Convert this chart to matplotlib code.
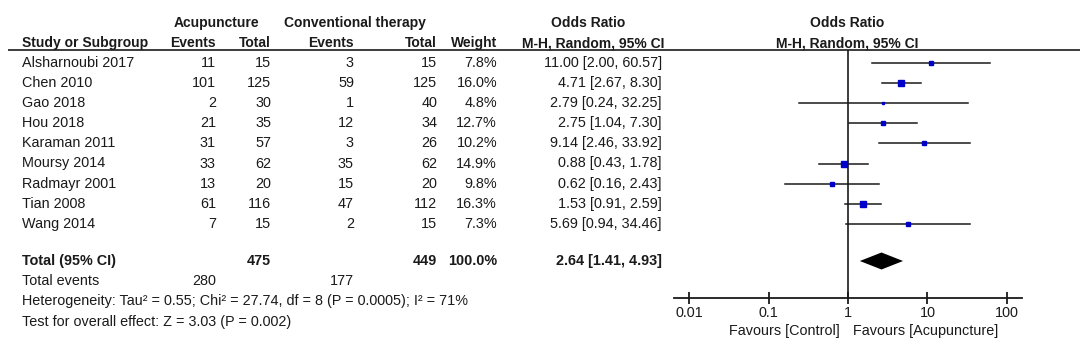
import matplotlib
matplotlib.use("Agg")
import matplotlib.pyplot as plt
import numpy as np

# data
studies = ["Alsharnoubi 2017", "Chen 2010", "Gao 2018", "Hou 2018", "Karaman 2011",
           "Moursy 2014", "Radmayr 2001", "Tian 2008", "Wang 2014"]
acu_events = [11, 101, 2, 21, 31, 33, 13, 61, 7]
acu_total = [15, 125, 30, 35, 57, 62, 20, 116, 15]
con_events = [3, 59, 1, 12, 3, 35, 15, 47, 2]
con_total = [15, 125, 40, 34, 26, 62, 20, 112, 15]
weights = [7.8, 16.0, 4.8, 12.7, 10.2, 14.9, 9.8, 16.3, 7.3]
or_est = [11.00, 4.71, 2.79, 2.75, 9.14, 0.88, 0.62, 1.53, 5.69]
or_lo = [2.00, 2.67, 0.24, 1.04, 2.46, 0.43, 0.16, 0.91, 0.94]
or_hi = [60.57, 8.30, 32.25, 7.30, 33.92, 1.78, 2.43, 2.59, 34.46]
pooled_est, pooled_lo, pooled_hi = 2.64, 1.41, 4.93
total_acu, total_con, total_weight = 475, 449, 100.0
events_acu, events_con = 280, 177
het_text = "Heterogeneity: Tau\u00b2 = 0.55; Chi\u00b2 = 27.74, df = 8 (P = 0.0005); I\u00b2 = 71%"
test_text = "Test for overall effect: Z = 3.03 (P = 0.002)"
xticks = [0.01, 0.1, 1, 10, 100]
xtick_labels = ["0.01", "0.1", "1", "10", "100"]

plt.rcParams['font.family'] = ['Liberation Sans', 'DejaVu Sans']
FS = 10.4   # regular text
FSB = 10    # bold headers
TXT = "#1a1a1a"
BLUE = "#0000c8"

W, H = 1080, 357
fig = plt.figure(figsize=(W / 100, H / 100), dpi=100)

# text layer in pixel coordinates
ax = fig.add_axes([0, 0, 1, 1])
ax.set_xlim(0, W)
ax.set_ylim(H, 0)
ax.axis("off")

# layout (pixels)
row0, drow = 63, 20.1
row_y = [row0 + i * drow for i in range(len(studies))]
y_total = 261
x_name = 22
x_ae, x_at, x_ce, x_ct, x_w, x_or = 216, 271, 354, 437, 497, 662

# headers
bold = dict(fontsize=FSB, fontweight="bold", color=TXT, va="center")
ax.text(216, 23, "Acupuncture", ha="center", **bold)
ax.text(355, 23, "Conventional therapy", ha="center", **bold)
ax.text(588, 23, "Odds Ratio", ha="center", **bold)
ax.text(847, 23, "Odds Ratio", ha="center", **bold)
ax.text(x_name, 43, "Study or Subgroup", ha="left", **bold)
for x, s in [(x_ae, "Events"), (x_at, "Total"), (x_ce, "Events"), (x_ct, "Total"), (x_w, "Weight")]:
    ax.text(x, 43, s, ha="right", **bold)
ax.text(593, 43, "M-H, Random, 95% CI", ha="center", **bold)
ax.text(847, 43, "M-H, Random, 95% CI", ha="center", **bold)
ax.plot([8, W], [50, 50], color=TXT, lw=1.2, solid_capstyle="butt")

# study rows
reg = dict(fontsize=FS, color=TXT, va="center")
for i, name in enumerate(studies):
    y = row_y[i]
    ax.text(x_name, y, name, ha="left", **reg)
    ax.text(x_ae, y, str(acu_events[i]), ha="right", **reg)
    ax.text(x_at, y, str(acu_total[i]), ha="right", **reg)
    ax.text(x_ce, y, str(con_events[i]), ha="right", **reg)
    ax.text(x_ct, y, str(con_total[i]), ha="right", **reg)
    ax.text(x_w, y, f"{weights[i]:.1f}%", ha="right", **reg)
    ax.text(x_or, y, f"{or_est[i]:.2f} [{or_lo[i]:.2f}, {or_hi[i]:.2f}]", ha="right", **reg)

# totals
boldt = dict(bold, fontsize=FS)
ax.text(x_name, y_total, "Total (95% CI)", ha="left", **boldt)
ax.text(x_at, y_total, str(total_acu), ha="right", **boldt)
ax.text(x_ct, y_total, str(total_con), ha="right", **boldt)
ax.text(x_w, y_total, f"{total_weight:.1f}%", ha="right", **boldt)
ax.text(x_or, y_total, f"{pooled_est:.2f} [{pooled_lo:.2f}, {pooled_hi:.2f}]", ha="right", **boldt)
ax.text(x_name, 281, "Total events", ha="left", **reg)
ax.text(x_ae, 281, str(events_acu), ha="right", **reg)
ax.text(x_ce, 281, str(events_con), ha="right", **reg)
ax.text(x_name, 301, het_text, ha="left", **reg)
ax.text(x_name, 322, test_text, ha="left", **reg)

# forest panel
fx0, fx1, fy0, fy1 = 674, 1022, 50, 298
ax2 = fig.add_axes([fx0 / W, 1 - fy1 / H, (fx1 - fx0) / W, (fy1 - fy0) / H])
ax2.patch.set_alpha(0)
ax2.set_xscale("log")
ax2.set_xlim(10 ** -2.19, 10 ** 2.19)
ax2.set_ylim(fy1, fy0)
for sp in ["top", "left", "right"]:
    ax2.spines[sp].set_visible(False)
ax2.spines["bottom"].set_linewidth(1.3)
ax2.spines["bottom"].set_color(TXT)
ax2.set_yticks([])
ax2.set_xticks(xticks)
ax2.set_xticklabels(xtick_labels)
ax2.minorticks_off()
ax2.tick_params(axis="x", direction="inout", length=8, width=1.3, color=TXT,
                labelsize=FS, labelcolor=TXT, pad=2)
ax2.axvline(1, color=TXT, lw=1.2)

for i in range(len(studies)):
    y = row_y[i]
    ax2.plot([or_lo[i], or_hi[i]], [y, y], color=TXT, lw=1.1)
    ms = 0.95 * np.sqrt(weights[i])
    ax2.plot(or_est[i], y, marker="s", ms=ms, color=BLUE, mec=BLUE)

dh = 8.5
ax2.fill([pooled_lo, pooled_est, pooled_hi, pooled_est],
         [y_total, y_total - dh, y_total, y_total + dh], color="black", lw=0)

ax.text(840, 331, "Favours [Control]", ha="right", **reg)
ax.text(853, 331, "Favours [Acupuncture]", ha="left", **reg)

fig.savefig("out.png", dpi=100)
